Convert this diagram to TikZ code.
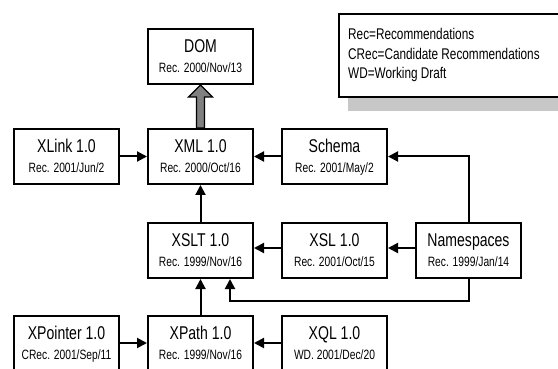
\documentclass[tikz,border=0pt]{standalone}
\usepackage{fontspec}
\setmainfont[FakeStretch=0.76]{Liberation Sans}
\usetikzlibrary{arrows.meta}

\tikzset{
  spec/.style={draw=black, line width=2pt, fill=white, minimum width=105pt, minimum height=55pt, inner sep=0pt},
  ttl/.style={anchor=base, inner sep=0pt, font=\fontsize{18.5}{20}\selectfont},
  sub/.style={anchor=base, inner sep=0pt, font=\fontsize{13.5}{15}\selectfont},
  link/.style={line width=2pt, -{Triangle[length=10pt,width=10pt]}},
  legendtext/.style={anchor=base west, inner sep=0pt, font=\fontsize{15.5}{17}\selectfont},
}

% #1 name, #2 left x, #3 top y, #4 title, #5 status line
\newcommand\specbox[5]{%
  \node[spec] (#1) at (#2+52.5,#3+27.5) {};
  \node[ttl] (#1-title) at (#2+52.5,#3+23.5) {#4};
  \node[sub] (#1-status) at (#2+52.5,#3+43.5) {#5};
}

\begin{document}
\begin{tikzpicture}[x=1pt,y=-1pt]
\useasboundingbox (0,0) rectangle (558,369);

% legend with drop shadow
\fill[black!22] (348,27) rectangle (575,111);
\node[draw=black, line width=2pt, fill=white, minimum width=230pt, minimum height=83pt, inner sep=0pt] (legend) at (339+115,14+41.5) {};
\node[legendtext] (leg1) at (348,40) {Rec=Recommendations};
\node[legendtext] (leg2) at (348,60) {CRec=Candidate Recommendations};
\node[legendtext] (leg3) at (348,79) {WD=Working Draft};

% specification boxes
\specbox{dom}{148}{29}{DOM}{Rec. 2000/Nov/13}
\specbox{xlink}{14}{129}{XLink 1.0}{Rec. 2001/Jun/2}
\specbox{xml}{148}{129}{XML 1.0}{Rec. 2000/Oct/16}
\specbox{schema}{282}{129}{Schema}{Rec. 2001/May/2}
\specbox{xslt}{148}{223}{XSLT 1.0}{Rec. 1999/Nov/16}
\specbox{xsl}{282}{223}{XSL 1.0}{Rec. 2001/Oct/15}
\specbox{ns}{416}{223}{Namespaces}{Rec. 1999/Jan/14}
\specbox{xpointer}{14}{316}{XPointer 1.0}{CRec. 2001/Sep/11}
\specbox{xpath}{148}{316}{XPath 1.0}{Rec. 1999/Nov/16}
\specbox{xql}{282}{316}{XQL 1.0}{WD. 2001/Dec/20}

% broad arrow from XML up to DOM
\coordinate (xmltop) at (xml.north);
\coordinate (dombot) at (dom.south);
\filldraw[fill=black!50, draw=black, line width=1.2pt, line join=miter]
  ([xshift=-4pt]xmltop) -- ([xshift=-4pt,yshift=-12pt]dombot) -- ([xshift=-12pt,yshift=-12pt]dombot)
  -- (dombot) -- ([xshift=12pt,yshift=-12pt]dombot) -- ([xshift=4pt,yshift=-12pt]dombot)
  -- ([xshift=4pt]xmltop) -- cycle;

% dependency links
\draw[link] (xlink) -- (xml);
\draw[link] (schema) -- (xml);
\draw[link] (xslt) -- (xml);
\draw[link] (xsl.west |- 0,248) -- (xslt.east |- 0,248);
\draw[link] (ns.west |- 0,248) -- (xsl.east |- 0,248);
\draw[link] (ns.north) |- (schema.east);
\coordinate (nsturn) at (ns.south |- 0,301);
\draw[link] (ns.south) -- (nsturn) -- (230,301) -- (xslt.south -| 230,0);
\draw[link] (xpath.north) -- (xslt.south);
\draw[link] (xpointer.east |- 0,343) -- (xpath.west |- 0,343);
\draw[link] (xql.west |- 0,343) -- (xpath.east |- 0,343);
\end{tikzpicture}
\end{document}
